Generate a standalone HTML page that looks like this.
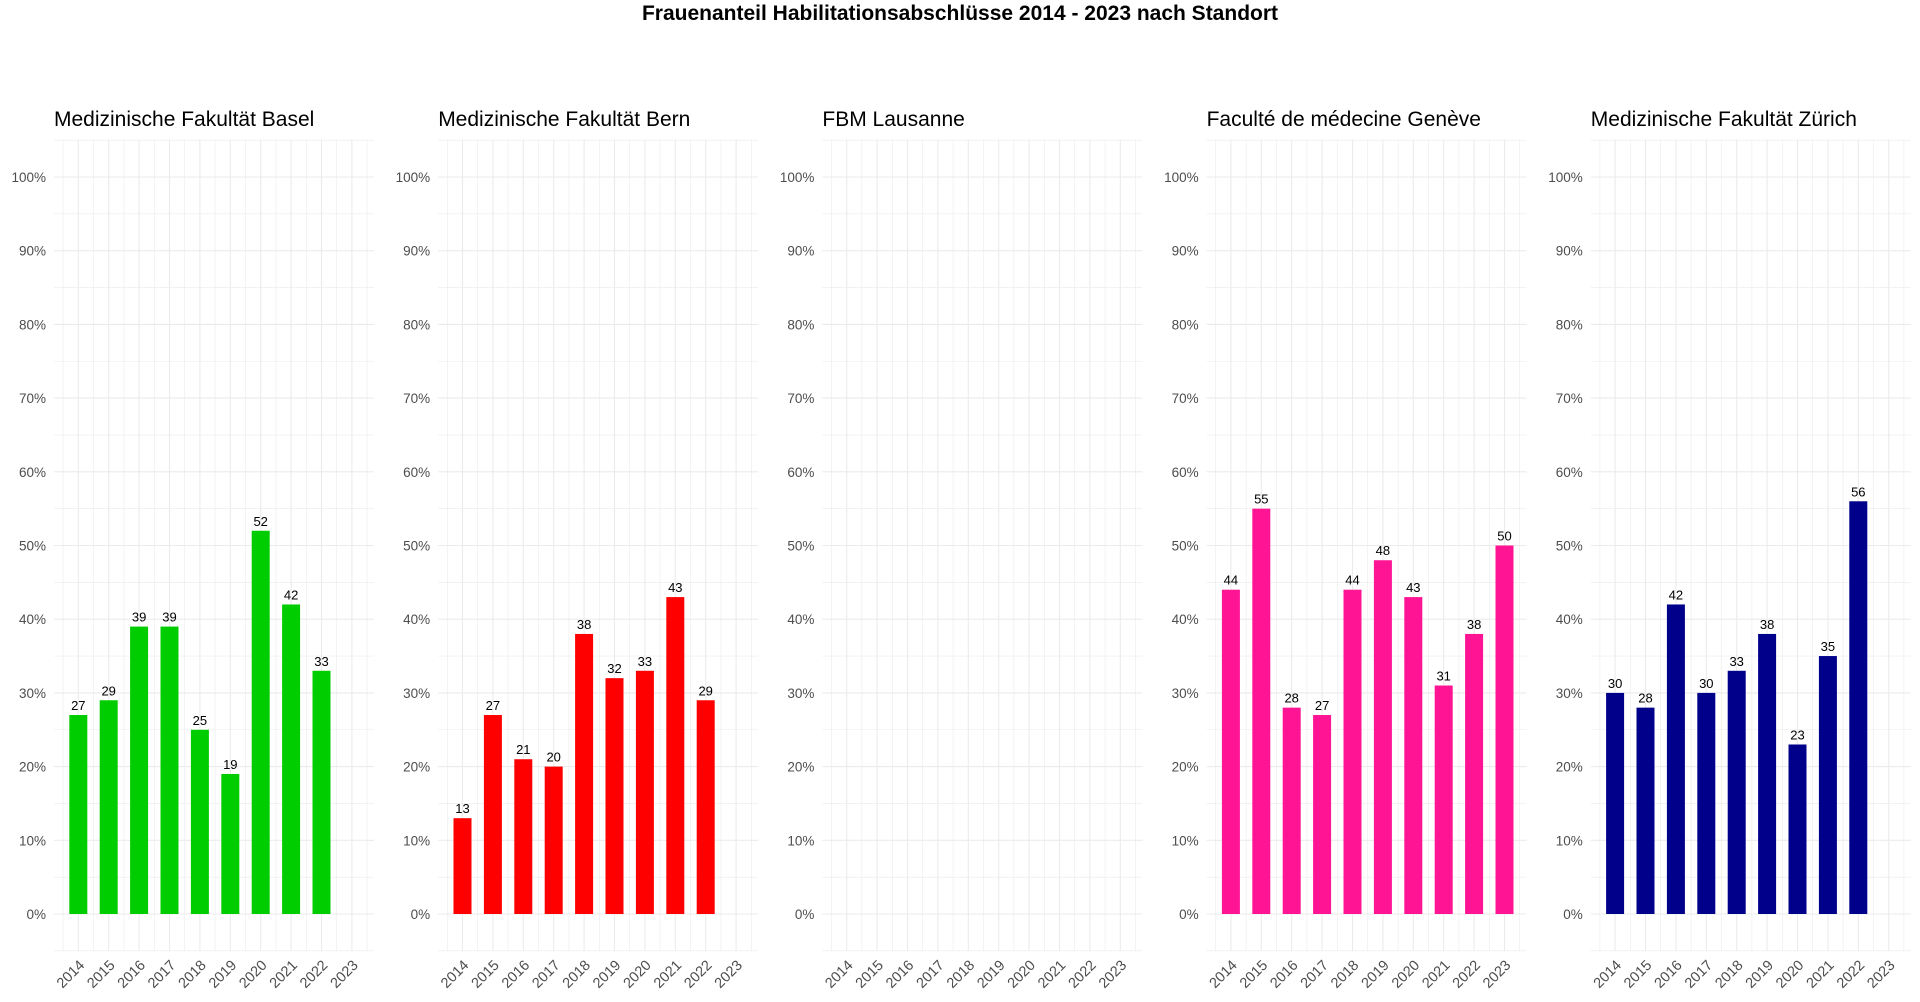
<!DOCTYPE html>
<html><head><meta charset="utf-8"><style>
body{margin:0;background:#fff;}
svg{display:block;font-family:"Liberation Sans",Arial,sans-serif;}
</style></head><body>
<svg id="s" width="1920" height="1002" xmlns="http://www.w3.org/2000/svg">
<text x="960" y="20" text-anchor="middle" font-size="21" font-weight="bold" fill="#000">Frauenanteil Habilitationsabschlüsse 2014 - 2023 nach Standort</text>
</svg>
<script>
(function(){
const s=document.getElementById('s');
const NS="http://www.w3.org/2000/svg";
function el(t,a,txt){const e=document.createElementNS(NS,t);for(const k in a)e.setAttribute(k,a[k]);if(txt!=null)e.textContent=txt;s.appendChild(e);return e;}
const panels=[
["Medizinische Fakultät Basel","#00CD00",[27,29,39,39,25,19,52,42,33,null]],
["Medizinische Fakultät Bern","#FF0000",[13,27,21,20,38,32,33,43,29,null]],
["FBM Lausanne","#000",[null,null,null,null,null,null,null,null,null,null]],
["Faculté de médecine Genève","#FF1493",[44,55,28,27,44,48,43,31,38,50]],
["Medizinische Fakultät Zürich","#00008B",[30,28,42,30,33,38,23,35,56,null]]
];
const ptop=140,bot=951,y0=914,per=7.37,W=320,step=30.4;
panels.forEach(function(p,i){
 const L=54+i*384.2;
 const x=k=>L+24.3+k*step;
 const y=v=>y0-v*per;
 for(let v=-5;v<=105;v+=5){
  el('line',{x1:L,x2:L+W,y1:y(v),y2:y(v),stroke:'#ebebeb','stroke-width':v%10==0?1.1:0.6});
 }
 for(let k=-0.5;k<=9.5;k+=0.5){
  el('line',{x1:x(k),x2:x(k),y1:ptop,y2:bot,stroke:'#ebebeb','stroke-width':Number.isInteger(k)?1.1:0.6});
 }
 for(let v=0;v<=100;v+=10){
  el('text',{x:L-8,y:y(v)+5,'text-anchor':'end','font-size':13.5,fill:'#4d4d4d'},v+'%');
 }
 for(let k=0;k<10;k++){
  const cx=x(k);
  el('text',{x:cx+7,y:966,'text-anchor':'end','font-size':14.5,fill:'#4d4d4d',transform:'rotate(-45 '+(cx+7)+' 966)'},String(2014+k));
  const v=p[2][k];
  if(v!=null){
   el('rect',{x:cx-9,y:y(v),width:18,height:v*per,fill:p[1]});
   el('text',{x:cx,y:y(v)-5,'text-anchor':'middle','font-size':13,fill:'#000'},String(v));
  }
 }
 el('text',{x:L,y:126,'font-size':21,fill:'#000'},p[0]);
});
})();
</script>
</body></html>
